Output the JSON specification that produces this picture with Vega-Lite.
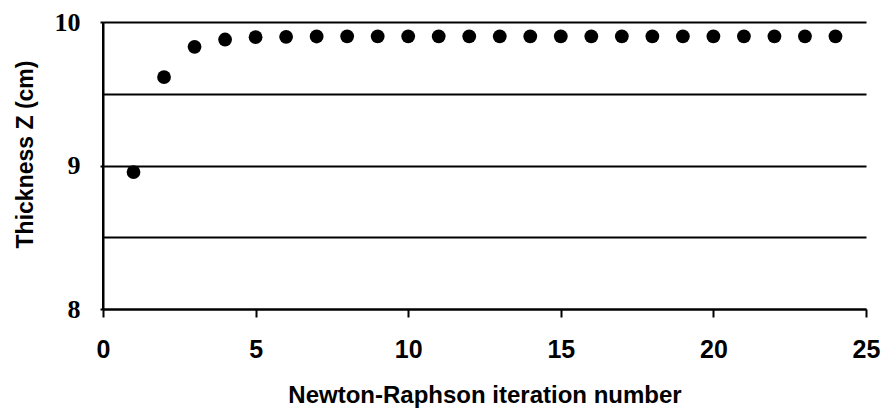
{
  "$schema": "https://vega.github.io/schema/vega-lite/v6.json",
  "width": 763,
  "height": 287,
  "autosize": "none",
  "padding": {"left": 103, "top": 22, "right": 16, "bottom": 100},
  "background": "white",
  "config": {"view": {"stroke": null}},
  "data": {
    "values": [
      {"iter": 1, "z": 8.954},
      {"iter": 2, "z": 9.616},
      {"iter": 3, "z": 9.827},
      {"iter": 4, "z": 9.878},
      {"iter": 5, "z": 9.894},
      {"iter": 6, "z": 9.897},
      {"iter": 7, "z": 9.899},
      {"iter": 8, "z": 9.9},
      {"iter": 9, "z": 9.9},
      {"iter": 10, "z": 9.9},
      {"iter": 11, "z": 9.9},
      {"iter": 12, "z": 9.9},
      {"iter": 13, "z": 9.9},
      {"iter": 14, "z": 9.9},
      {"iter": 15, "z": 9.9},
      {"iter": 16, "z": 9.9},
      {"iter": 17, "z": 9.9},
      {"iter": 18, "z": 9.9},
      {"iter": 19, "z": 9.9},
      {"iter": 20, "z": 9.9},
      {"iter": 21, "z": 9.9},
      {"iter": 22, "z": 9.9},
      {"iter": 23, "z": 9.9},
      {"iter": 24, "z": 9.9}
    ]
  },
  "encoding": {
    "x": {
      "field": "iter",
      "type": "quantitative",
      "scale": {"domain": [0, 25], "nice": false, "zero": false},
      "axis": {
        "values": [0, 5, 10, 15, 20, 25],
        "grid": false,
        "domain": true,
        "domainColor": "black",
        "domainWidth": 2,
        "ticks": true,
        "tickColor": "black",
        "tickWidth": 2,
        "tickSize": 8,
        "labelFlush": false,
        "labelPadding": 20,
        "labelFont": "Liberation Sans",
        "labelFontWeight": "bold",
        "labelFontSize": 25,
        "labelColor": "black",
        "title": "Newton-Raphson iteration number",
        "titleFont": "Liberation Sans",
        "titleFontWeight": "bold",
        "titleFontSize": 24,
        "titleColor": "black",
        "titlePadding": 21
      }
    },
    "y": {
      "field": "z",
      "type": "quantitative",
      "scale": {"domain": [8, 10], "nice": false, "zero": false},
      "axis": {
        "values": [8, 8.5, 9, 9.5, 10],
        "format": ".1~f",
        "labelExpr": "datum.value % 1 === 0 ? datum.label : ''",
        "grid": true,
        "gridColor": "black",
        "gridWidth": 2,
        "gridOpacity": 1,
        "domain": true,
        "domainColor": "black",
        "domainWidth": 2,
        "domainOpacity": 1,
        "ticks": true,
        "tickColor": "black",
        "tickWidth": 2,
        "tickSize": 3,
        "tickOpacity": {"condition": {"test": "datum.value % 1 === 0", "value": 1}, "value": 0},
        "labelFlush": false,
        "labelPadding": 20,
        "labelFont": "Liberation Serif",
        "labelFontWeight": "bold",
        "labelFontSize": 26,
        "labelColor": "black",
        "title": "Thickness Z (cm)",
        "titleFont": "Liberation Sans",
        "titleFontWeight": "bold",
        "titleFontSize": 23,
        "titleColor": "black",
        "titleX": -66,
        "titleY": 132
      }
    }
  },
  "layer": [
    {
      "mark": {"type": "rule", "color": "black", "strokeWidth": 2},
      "encoding": {
        "x": {"datum": 0, "type": "quantitative"},
        "y": null
      }
    },
    {
      "mark": {"type": "point", "filled": true, "shape": "circle", "size": 190, "color": "black", "opacity": 1}
    }
  ]
}
